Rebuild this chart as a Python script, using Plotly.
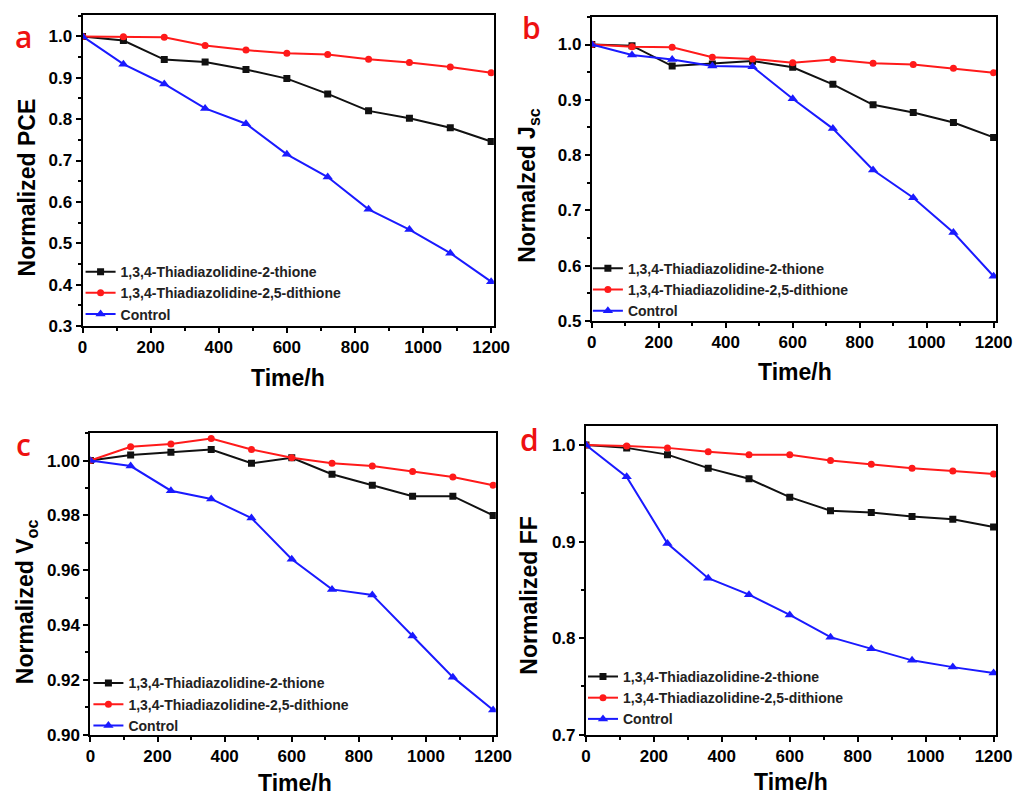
import plotly.graph_objects as go

# The page keeps the browser's default 8 px body margin, so the figure is
# 1018x793 and fills the 1034x809 window exactly.
PAGE_W, PAGE_H = 1034, 809
OFF = 8
W, H = PAGE_W - 2 * OFF, PAGE_H - 2 * OFF

time_h = [0, 120, 240, 360, 480, 600, 720, 840, 960, 1080, 1200]
series_names = ["1,3,4-Thiadiazolidine-2-thione", "1,3,4-Thiadiazolidine-2,5-dithione", "Control"]

pce_thione = [1.0, 0.990, 0.944, 0.938, 0.920, 0.898, 0.861, 0.820, 0.802, 0.779, 0.746]
pce_dithione = [1.0, 0.999, 0.998, 0.978, 0.967, 0.959, 0.956, 0.945, 0.937, 0.926, 0.912]
pce_control = [1.0, 0.933, 0.885, 0.826, 0.789, 0.715, 0.660, 0.582, 0.533, 0.476, 0.407]

jsc_thione = [1.0, 0.998, 0.961, 0.965, 0.970, 0.959, 0.928, 0.891, 0.877, 0.859, 0.832]
jsc_dithione = [1.0, 0.996, 0.995, 0.977, 0.974, 0.967, 0.973, 0.966, 0.964, 0.957, 0.949]
jsc_control = [1.0, 0.981, 0.973, 0.961, 0.960, 0.902, 0.848, 0.773, 0.723, 0.660, 0.581]

voc_thione = [1.0, 1.002, 1.003, 1.004, 0.999, 1.001, 0.995, 0.991, 0.987, 0.987, 0.980]
voc_dithione = [1.0, 1.005, 1.006, 1.008, 1.004, 1.001, 0.999, 0.998, 0.996, 0.994, 0.991]
voc_control = [1.0, 0.998, 0.989, 0.986, 0.979, 0.964, 0.953, 0.951, 0.936, 0.921, 0.909]

ff_thione = [1.0, 0.997, 0.990, 0.976, 0.965, 0.946, 0.932, 0.930, 0.926, 0.923, 0.915]
ff_dithione = [1.0, 0.999, 0.997, 0.993, 0.990, 0.990, 0.984, 0.980, 0.976, 0.973, 0.970]
ff_control = [1.0, 0.967, 0.898, 0.862, 0.845, 0.824, 0.801, 0.789, 0.777, 0.770, 0.764]

panel_letters = ["a", "b", "c", "d"]
y_titles = ["Normalized PCE", "Normalzed J<sub>sc</sub>", "Normalized V<sub>oc</sub>", "Normalized FF"]
x_title = "Time/h"

# panel pixel boxes in window coordinates (left, right, top, bottom)
boxes = [(79, 499, 15, 330), (599, 1012, 17, 325), (87, 501, 438, 744), (593, 1012, 431, 744)]
y_ranges = [(0.3, 1.052), (0.5, 1.05), (0.9, 1.0102), (0.7, 1.02)]
y_dticks = [0.1, 0.1, 0.02, 0.1]
y_formats = [".1f", ".1f", ".2f", ".1f"]
x_range = (0, 1208)

panels = [
    (pce_thione, pce_dithione, pce_control),
    (jsc_thione, jsc_dithione, jsc_control),
    (voc_thione, voc_dithione, voc_control),
    (ff_thione, ff_dithione, ff_control),
]

colors = ["#111111", "#ff1a1a", "#1a1aff"]
symbols = ["square", "circle", "triangle-up"]
msizes = [7, 7, 9]

legend_pos = [(77, 296.7), (595, 293.3), (85, 713.3), (590, 706.7)]
letter_pos = [(19, 37), (537, 28), (19, 450), (535, 445)]
xtitle_pos = [(289, 383), (806, 377), (296, 793), (802, 792)]
ytitle_pos = [(22, 190), (535, 188), (22, 609), (535, 603)]

def px(x):
    return (x - OFF) / W

def py(y):
    return 1 - (y - OFF) / H

fig = go.Figure()
layout = dict(
    width=W, height=H,
    margin=dict(l=0, r=0, t=0, b=0),
    paper_bgcolor="white", plot_bgcolor="white",
    font=dict(family="Liberation Sans", color="black"),
    showlegend=True,
)
annotations = []

for i, data in enumerate(panels):
    n = "" if i == 0 else str(i + 1)
    xa, ya = "x" + n, "y" + n
    lg = "legend" + n
    l, r, t, b = boxes[i]
    for k in range(3):
        fig.add_trace(go.Scatter(
            x=time_h, y=data[k], name=series_names[k], mode="lines+markers",
            line=dict(color=colors[k], width=2),
            marker=dict(symbol=symbols[k], size=msizes[k], color=colors[k]),
            xaxis=xa, yaxis=ya, legend=lg,
        ))
    axis_common = dict(
        showline=True, linecolor="black", linewidth=2, mirror=True,
        ticks="outside", ticklen=5, tickwidth=1.5, tickcolor="black",
        showgrid=False, zeroline=False,
        tickfont=dict(family="Liberation Sans", size=17, color="black", weight="bold"),
    )
    layout["xaxis" + n] = dict(
        axis_common, domain=[px(l), px(r)], range=list(x_range),
        anchor=ya, tickmode="linear", tick0=0, dtick=200,
        minor=dict(ticks="outside", ticklen=3, tickwidth=1.5, tickcolor="black", dtick=100, showgrid=False),
    )
    layout["yaxis" + n] = dict(
        axis_common, domain=[py(b), py(t)], range=list(y_ranges[i]),
        anchor=xa, tickmode="linear", tick0=y_ranges[i][0], dtick=y_dticks[i],
        tickformat=y_formats[i],
        minor=dict(ticks="outside", ticklen=3, tickwidth=1.5, tickcolor="black", dtick=y_dticks[i] / 2, showgrid=False),
    )
    lx, ly = legend_pos[i]
    layout[lg] = dict(
        x=px(lx), y=py(ly), xanchor="left", yanchor="middle",
        bgcolor="rgba(0,0,0,0)", borderwidth=0,
        font=dict(family="Liberation Sans", size=14, color="#222222", weight="bold"),
        tracegroupgap=0, itemwidth=30,
    )
    annotations.append(dict(
        text=panel_letters[i], x=px(letter_pos[i][0]), y=py(letter_pos[i][1]),
        xref="paper", yref="paper", showarrow=False, xanchor="center", yanchor="middle",
        font=dict(family="Open Sans", size=30, color="#ee1111", weight=600),
    ))
    annotations.append(dict(
        text=x_title, x=px(xtitle_pos[i][0]), y=py(xtitle_pos[i][1]), xref="paper", yref="paper",
        showarrow=False, xanchor="center", yanchor="middle",
        font=dict(family="Liberation Sans", size=23, color="black", weight="bold"),
    ))
    annotations.append(dict(
        text=y_titles[i], x=px(ytitle_pos[i][0]), y=py(ytitle_pos[i][1]), xref="paper", yref="paper",
        showarrow=False, xanchor="center", yanchor="middle", textangle=-90,
        font=dict(family="Liberation Sans", size=23, color="black", weight="bold"),
    ))

layout["annotations"] = annotations
fig.update_layout(**layout)
fig.write_html("out.html", config={"displayModeBar": False})
